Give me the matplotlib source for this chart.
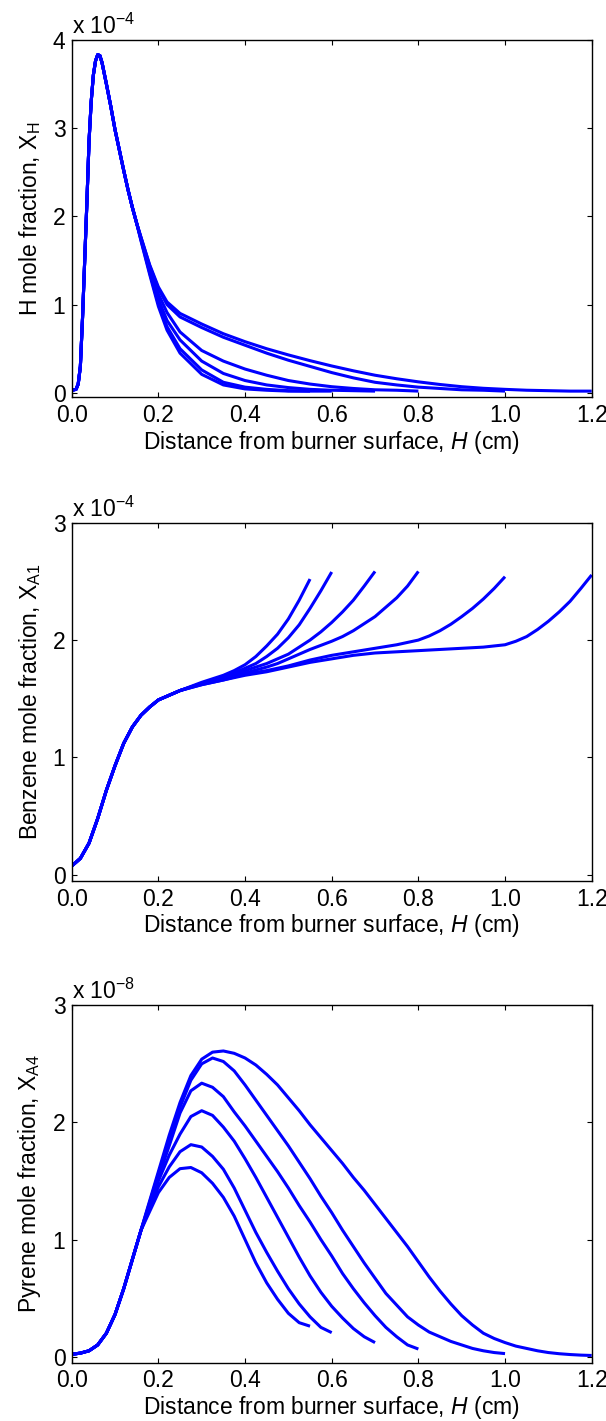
import matplotlib
matplotlib.use('Agg')
import matplotlib.pyplot as plt

plt.rcParams['font.family'] = 'Liberation Sans'
plt.rcParams['mathtext.fontset'] = 'custom'
plt.rcParams['mathtext.rm'] = 'Liberation Sans'
plt.rcParams['mathtext.it'] = 'Liberation Sans:italic'
plt.rcParams['mathtext.default'] = 'regular'

# flame runs, burner-stagnation separation (cm)
RUN_END = [0.55, 0.6, 0.7, 0.8, 1.0, 1.2]

# --- H atom (x 1e-4) ---
H_X_HEAD = [0.0, 0.01, 0.015, 0.02, 0.025, 0.03, 0.035, 0.04, 0.045, 0.05, 0.055,
            0.06, 0.065, 0.07, 0.08, 0.09, 0.10, 0.11, 0.12, 0.13, 0.14, 0.15]
H_HEAD = [0.03, 0.04, 0.1, 0.3, 0.85, 1.5, 2.15, 2.85, 3.3, 3.6, 3.76,
          3.83, 3.82, 3.74, 3.5, 3.25, 2.98, 2.75, 2.52, 2.3, 2.1, 1.92]
H_X_TAIL = [0.16, 0.18, 0.2, 0.22, 0.25, 0.3, 0.35, 0.4, 0.45, 0.5, 0.55, 0.6,
            0.65, 0.7, 0.75, 0.8, 0.85, 0.9, 0.95, 1.0, 1.05, 1.1, 1.15, 1.2]
H_055 = [1.72, 1.34, 0.98, 0.71, 0.45, 0.21, 0.09, 0.045, 0.03, 0.02, 0.02]
H_060 = [1.73, 1.36, 1.01, 0.75, 0.5, 0.26, 0.12, 0.065, 0.04, 0.025, 0.02, 0.02]
H_070 = [1.74, 1.39, 1.06, 0.82, 0.6, 0.36, 0.22, 0.14, 0.09, 0.06, 0.04, 0.03,
         0.025, 0.02]
H_080 = [1.75, 1.42, 1.12, 0.91, 0.69, 0.48, 0.36, 0.27, 0.2, 0.14, 0.1, 0.07,
         0.05, 0.035, 0.03, 0.02]
H_100 = [1.76, 1.44, 1.18, 1.0, 0.86, 0.74, 0.63, 0.54, 0.45, 0.37, 0.3, 0.23,
         0.17, 0.12, 0.09, 0.065, 0.05, 0.035, 0.03, 0.02]
H_120 = [1.76, 1.45, 1.2, 1.03, 0.9, 0.78, 0.67, 0.58, 0.5, 0.43, 0.365, 0.305,
         0.25, 0.2, 0.16, 0.125, 0.095, 0.07, 0.052, 0.04, 0.03, 0.025, 0.02, 0.02]

# --- benzene (x 1e-4) ---
B_X_HEAD = [0.0, 0.02, 0.04, 0.06, 0.08, 0.1, 0.12, 0.14, 0.16, 0.18, 0.2, 0.25]
B_HEAD = [0.075, 0.14, 0.27, 0.48, 0.72, 0.93, 1.12, 1.26, 1.36, 1.43, 1.49, 1.57]
B_X_TAIL = [0.3, 0.325, 0.35, 0.375, 0.4, 0.425, 0.45, 0.475, 0.5, 0.525,
            0.55, 0.575, 0.6, 0.625, 0.65, 0.675, 0.7, 0.725, 0.75, 0.775,
            0.8, 0.825, 0.85, 0.875, 0.9, 0.925, 0.95, 0.975, 1.0, 1.025,
            1.05, 1.075, 1.1, 1.125, 1.15, 1.175, 1.2]
B_055 = [1.64, 1.67, 1.70, 1.74, 1.79, 1.86, 1.95, 2.05, 2.18, 2.34, 2.52]
B_060 = [1.63, 1.66, 1.69, 1.72, 1.76, 1.8, 1.86, 1.93, 2.02, 2.13, 2.27, 2.42,
         2.58]
B_070 = [1.63, 1.655, 1.68, 1.71, 1.74, 1.77, 1.8, 1.84, 1.88, 1.94, 2.0, 2.07,
         2.15, 2.24, 2.34, 2.46, 2.585]
B_080 = [1.63, 1.65, 1.67, 1.695, 1.72, 1.745, 1.77, 1.8, 1.84, 1.88, 1.92,
         1.955, 1.99, 2.03, 2.08, 2.14, 2.2, 2.28, 2.36, 2.46, 2.585]
B_100 = [1.62, 1.64, 1.66, 1.685, 1.71, 1.725, 1.74, 1.76, 1.78, 1.805, 1.83,
         1.85, 1.87, 1.885, 1.9, 1.915, 1.93, 1.945, 1.96, 1.98, 2.0, 2.035,
         2.08, 2.135, 2.2, 2.27, 2.35, 2.44, 2.54]
B_120 = [1.62, 1.64, 1.66, 1.68, 1.7, 1.715, 1.73, 1.75, 1.77, 1.79, 1.81,
         1.825, 1.84, 1.855, 1.87, 1.88, 1.89, 1.895, 1.9, 1.905, 1.91, 1.915,
         1.92, 1.925, 1.93, 1.935, 1.94, 1.95, 1.96, 1.99, 2.03, 2.09, 2.16,
         2.24, 2.33, 2.44, 2.555]

# --- pyrene (x 1e-8) ---
P_X_HEAD = [0.0, 0.02, 0.04, 0.06, 0.08, 0.1, 0.12, 0.14, 0.16]
P_HEAD = [0.02, 0.03, 0.05, 0.1, 0.2, 0.36, 0.58, 0.83, 1.08]
P_X_TAIL = [0.175, 0.2, 0.225, 0.25, 0.275, 0.3, 0.325, 0.35, 0.375, 0.4,
            0.425, 0.45, 0.475, 0.5, 0.525, 0.55, 0.575, 0.6, 0.625, 0.65,
            0.675, 0.7, 0.725, 0.75, 0.775, 0.8, 0.825, 0.85, 0.875, 0.9,
            0.925, 0.95, 0.975, 1.0, 1.025, 1.05, 1.075, 1.1, 1.125, 1.15,
            1.175, 1.2]
P_055 = [1.2, 1.4, 1.53, 1.605, 1.615, 1.57, 1.48, 1.36, 1.2, 1.0, 0.8, 0.63,
         0.49, 0.37, 0.29, 0.26]
P_060 = [1.22, 1.45, 1.62, 1.75, 1.81, 1.79, 1.71, 1.6, 1.44, 1.25, 1.06, 0.89,
         0.73, 0.58, 0.45, 0.34, 0.25, 0.205]
P_070 = [1.24, 1.5, 1.72, 1.9, 2.05, 2.1, 2.06, 1.96, 1.84, 1.69, 1.53, 1.36,
         1.19, 1.02, 0.85, 0.69, 0.55, 0.43, 0.33, 0.24, 0.17, 0.12]
P_080 = [1.25, 1.53, 1.8, 2.08, 2.27, 2.335, 2.3, 2.22, 2.09, 1.97, 1.84, 1.71,
         1.58, 1.44, 1.29, 1.15, 1.0, 0.86, 0.71, 0.58, 0.46, 0.35, 0.25, 0.17,
         0.1, 0.065]
P_100 = [1.26, 1.56, 1.86, 2.13, 2.36, 2.5, 2.55, 2.52, 2.44, 2.32, 2.19, 2.06,
         1.93, 1.8, 1.66, 1.52, 1.37, 1.23, 1.08, 0.94, 0.8, 0.67, 0.54, 0.44,
         0.34, 0.27, 0.21, 0.17, 0.13, 0.1, 0.07, 0.05, 0.035, 0.026]
P_120 = [1.27, 1.58, 1.89, 2.17, 2.4, 2.54, 2.6, 2.61, 2.59, 2.55, 2.49, 2.41,
         2.32, 2.21, 2.1, 1.98, 1.87, 1.76, 1.65, 1.53, 1.42, 1.3, 1.18, 1.06,
         0.94, 0.81, 0.68, 0.56, 0.45, 0.35, 0.27, 0.2, 0.155, 0.12, 0.09, 0.07,
         0.05, 0.035, 0.025, 0.018, 0.013, 0.01]

X_TICKS = [0.0, 0.2, 0.4, 0.6, 0.8, 1.0, 1.2]
X_TICKLABELS = ['0.0', '0.2', '0.4', '0.6', '0.8', '1.0', '1.2']

panels = [
    dict(head_x=H_X_HEAD, head=H_HEAD, tail_x=H_X_TAIL,
         tails=[H_055, H_060, H_070, H_080, H_100, H_120],
         ymax=4, yticks=[0, 1, 2, 3, 4], exp='-4',
         ylabel='H mole fraction, $X_{H}$'),
    dict(head_x=B_X_HEAD, head=B_HEAD, tail_x=B_X_TAIL,
         tails=[B_055, B_060, B_070, B_080, B_100, B_120],
         ymax=3, yticks=[0, 1, 2, 3], exp='-4',
         ylabel='Benzene mole fraction, $X_{A1}$'),
    dict(head_x=P_X_HEAD, head=P_HEAD, tail_x=P_X_TAIL,
         tails=[P_055, P_060, P_070, P_080, P_100, P_120],
         ymax=3, yticks=[0, 1, 2, 3], exp='-8',
         ylabel='Pyrene mole fraction, $X_{A4}$'),
]

W, H = 606, 1421
fig = plt.figure(figsize=(W / 100, H / 100), dpi=100)

# axes boxes in pixels: (top, bottom)
boxes = [(39.7, 397.3), (522.7, 880.7), (1005.3, 1362.5)]
left_px, right_px = 71.7, 591.7
fs = 16.5

for p, (top, bot) in zip(panels, boxes):
    ax = fig.add_axes([left_px / W, 1 - bot / H, (right_px - left_px) / W, (bot - top) / H])
    for tail in p['tails']:
        x = p['head_x'] + p['tail_x'][:len(tail)]
        y = p['head'] + tail
        ax.plot(x, y, color='#0000ff', lw=2.2, solid_capstyle='butt', solid_joinstyle='round')

    ax.set_xlim(0, 1.2)
    ax.set_ylim(-0.05, p['ymax'])
    ax.set_xticks(X_TICKS)
    ax.set_xticklabels(X_TICKLABELS)
    ax.set_yticks(p['yticks'])
    ax.set_yticklabels([str(t) for t in p['yticks']])
    ax.tick_params(direction='in', top=True, right=True, length=3.7, width=0.8,
                   labelsize=fs, pad=4.5)
    ax.tick_params(axis='x', pad=5.0)
    for s in ax.spines.values():
        s.set_linewidth(1.0)

    ax.set_xlabel('Distance from burner surface, $\\mathit{H}$ (cm)', fontsize=fs)
    ax.xaxis.set_label_coords(0.5, -0.088)
    ax.set_ylabel(p['ylabel'], fontsize=fs)
    ax.yaxis.set_label_coords(-0.055, 0.5)

    ax.text(0.0, 1.0 + 6.0 / (bot - top), 'x 10$^{' + p['exp'] + '}$',
            transform=ax.transAxes, ha='left', va='baseline', fontsize=fs)

fig.savefig('out.png', dpi=100)
